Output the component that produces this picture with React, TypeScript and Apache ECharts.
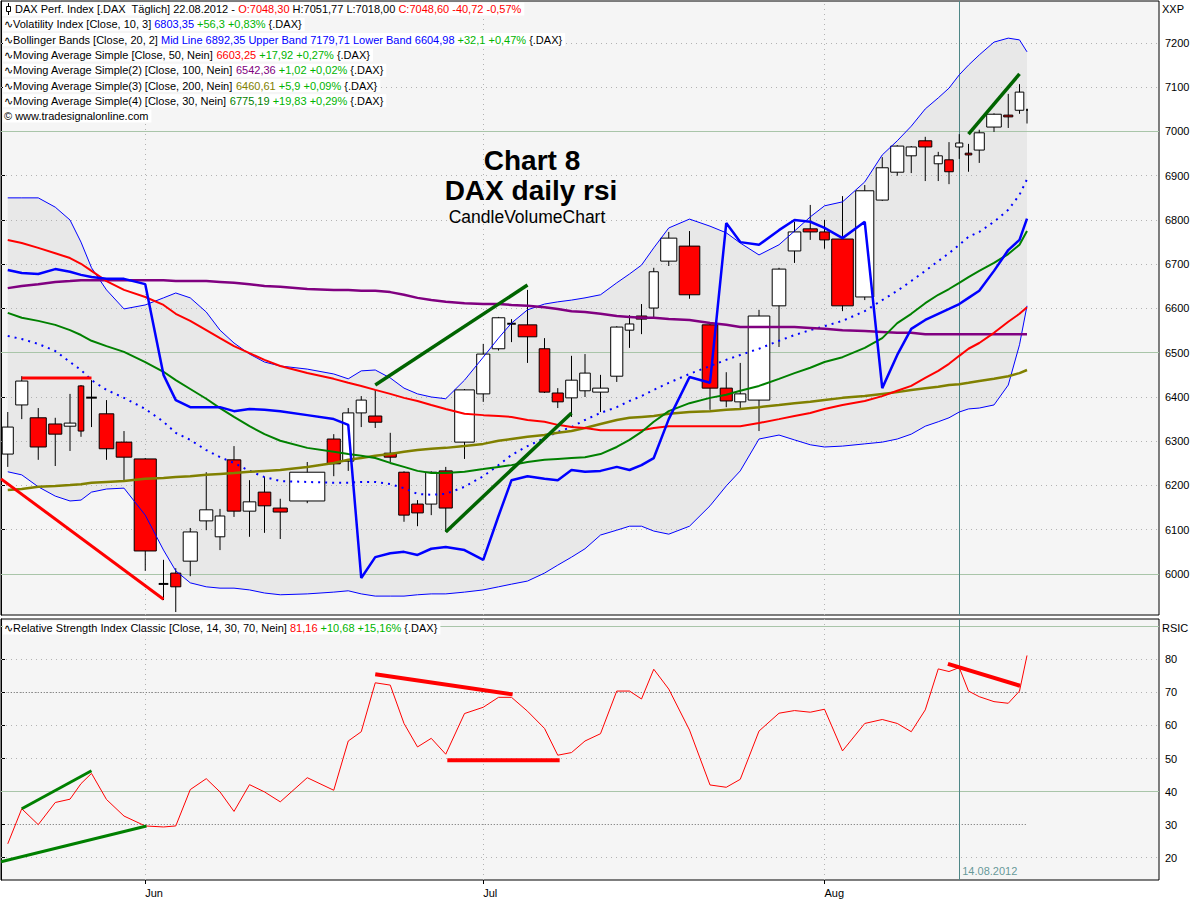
import React, { useEffect, useRef } from 'react';
import * as echarts from 'echarts';

// ---- data ----
const dates = [
  '2012-05-21','2012-05-22','2012-05-23','2012-05-24','2012-05-25','2012-05-28','2012-05-29','2012-05-30','2012-05-31',
  '2012-06-01','2012-06-04','2012-06-05','2012-06-06','2012-06-07','2012-06-08','2012-06-11','2012-06-12','2012-06-13','2012-06-14','2012-06-15',
  '2012-06-18','2012-06-19','2012-06-20','2012-06-21','2012-06-22','2012-06-25','2012-06-26','2012-06-27','2012-06-28','2012-06-29',
  '2012-07-02','2012-07-03','2012-07-04','2012-07-05','2012-07-06','2012-07-09','2012-07-10','2012-07-11','2012-07-12','2012-07-13',
  '2012-07-16','2012-07-17','2012-07-18','2012-07-19','2012-07-20','2012-07-23','2012-07-24','2012-07-25','2012-07-26','2012-07-27',
  '2012-07-30','2012-07-31','2012-08-01','2012-08-02','2012-08-03','2012-08-06','2012-08-07','2012-08-08','2012-08-09','2012-08-10',
  '2012-08-13','2012-08-14','2012-08-15','2012-08-16','2012-08-17','2012-08-20','2012-08-21','2012-08-22'
];
const opens = [6271,6382,6353,6339,6334,6425,6398,6362,6298,6260, 5977,6002,6029,6120,6084,6258,6142,6185,6149,6165,
  6305,6255,6364,6357,6273,6230,6158,6158,6233,6298, 6407,6509,6565,6563,6509,6409,6398,6414,6411,6447,
  6551,6583,6601,6707,6741,6563,6420,6389,6393,6606, 6730,6780,6773,6757,6626,6845,6908,6945,6979,6927,
  6936,6965,6951,6958,7010,7037,7048,7048.3];
const highs = [6366,6447,6375,6353,6407,6427,6438,6393,6323,6262, 6032,6013,6104,6230,6147,6289,6212,6219,6170,6253,
  6316,6375,6402,6416,6319,6232,6167,6232,6242,6418, 6520,6581,6576,6642,6533,6420,6493,6497,6450,6560,
  6585,6610,6692,6773,6775,6565,6456,6477,6597,6692, 6796,6834,6800,6854,6879,6942,6969,6967,6988,6954,
  6976,6994,6972,7004,7041,7085,7107,7051.77];
const lows = [6242,6350,6258,6244,6278,6310,6332,6258,6212,6007, 5941,5914,5995,6099,6054,6129,6084,6093,6079,6160,
  6221,6233,6332,6330,6253,6118,6108,6133,6095,6260, 6389,6505,6524,6477,6409,6375,6355,6400,6366,6434,
  6511,6542,6579,6696,6622,6371,6377,6371,6323,6513, 6703,6755,6735,6594,6619,6843,6900,6906,6888,6888,
  6881,6938,6909,6929,6999,7008,7040,7018];
const closes = [6332,6436,6287,6316,6341,6323,6399,6283,6264,6052, 5978,5971,6095,6145,6131,6142,6163,6154,6140,6230,
  6249,6364,6393,6343,6264,6133,6138,6230,6149,6416, 6497,6579,6566,6536,6411,6389,6438,6454,6420,6558,
  6565,6576,6683,6759,6631,6420,6391,6407,6583,6689, 6773,6773,6755,6606,6866,6918,6967,6965,6965,6945,
  6909,6974,6947,6997,7039,7033,7089,7048.6];
// relative traded volume (CandleVolume chart: candle width ~ volume)
const volumes = [135,145,185,155,140,80,130,170,180,245, 120,125,165,155,120,160,150,150,165,375,
  155,135,125,155,145,130,140,135,155,220, 155,150,110,210,130,135,140,130,180,145,
  110,130,115,185,230,180,145,135,240,160, 150,165,120,240,205,145,155,125,155,105,
  110,95,90,125,170,115,110,40];
const volatilityIndex = [6687,6680,6678,6689,6683,6676,6671,6667,6667,6655, 6450,6393,6377,6377,6377,6368,6373,6371,6368,6359,
  6350,6337,5991,6038,6047,6050,6043,6057,6061,6054, 6032,6131,6212,6221,6215,6212,6235,6231,6233,6242,
  6235,6246,6262,6350,6445,6432,6793,6750,6744,6777, 6800,6796,6782,6759,6796,6420,6495,6554,6574,6588,
  6599,6610,6624,6640,6685,6732,6755,6803];
const bbMid = [6538,6531,6520,6504,6479,6461,6438,6416,6398,6373, 6344,6319,6303,6280,6264,6251,6233,6219,6210,6208,
  6206,6206,6208,6208,6203,6194,6181,6179,6181,6197, 6221,6246,6269,6289,6307,6321,6332,6348,6364,6377,
  6391,6402,6416,6432,6452,6470,6484,6495,6509,6527, 6540,6551,6560,6572,6594,6619,6640,6662,6685,6707,
  6725,6744,6762,6773,6796,6823,6857,6892];
const bbUpper = [6850,6850,6850,6829,6800,6750,6692,6642,6599,6608, 6624,6635,6624,6592,6551,6522,6497,6479,6470,6463,
  6452,6441,6459,6461,6443,6420,6407,6400,6396,6438, 6490,6533,6567,6597,6610,6615,6619,6624,6631,6658,
  6678,6698,6737,6782,6802,6786,6771,6748,6721,6744, 6775,6807,6832,6841,6886,6947,6979,7012,7051,7076,
  7098,7128,7150,7173,7202,7211,7207,7180];
const bbLower = [6231,6224,6197,6176,6165,6167,6185,6192,6194,6133, 6054,6007,5980,5971,5968,5968,5964,5957,5953,5955,
  5959,5962,5955,5950,5950,5950,5953,5955,5955,5959, 5964,5971,5977,5984,6002,6020,6038,6057,6088,6099,
  6108,6108,6097,6090,6108,6154,6199,6233,6305,6314, 6303,6292,6287,6289,6294,6298,6305,6316,6334,6344,
  6353,6366,6373,6375,6382,6427,6518,6606];
const ma30 = [6590,6579,6572,6563,6551,6540,6527,6515,6502,6479, 6457,6438,6418,6396,6375,6355,6334,6316,6301,6285,
  6276,6271,6267,6262,6251,6242,6233,6228,6228,6231, 6237,6242,6246,6253,6258,6260,6262,6264,6271,6287,
  6303,6321,6344,6368,6386,6398,6405,6414,6425,6441, 6454,6466,6479,6490,6511,6533,6567,6588,6612,6631,
  6644,6658,6671,6685,6703,6723,6744,6775];
const ma50 = [6755,6748,6737,6725,6714,6701,6685,6662,6642,6626, 6608,6588,6572,6551,6533,6515,6499,6484,6470,6454,
  6441,6432,6425,6416,6407,6398,6391,6382,6373,6362, 6359,6357,6355,6348,6344,6337,6332,6330,6325,6325,
  6325,6325,6330,6334,6334,6334,6334,6334,6341,6350, 6357,6364,6373,6382,6391,6402,6414,6425,6443,6459,
  6475,6493,6509,6522,6545,6570,6588,6603];
const ma100 = [6646,6651,6655,6660,6662,6664,6664,6664,6664,6664, 6664,6662,6662,6662,6660,6658,6655,6651,6649,6644,
  6642,6642,6640,6640,6637,6631,6624,6619,6615,6612, 6610,6610,6608,6606,6603,6599,6594,6592,6588,6583,
  6581,6579,6579,6576,6574,6567,6563,6558,6558,6558, 6558,6556,6554,6551,6549,6547,6545,6545,6542,6542,
  6542,6542,6542,6542,6542,6542,6542,6542];
const ma200 = [6190,6192,6197,6199,6201,6203,6206,6208,6210,6215, 6217,6219,6221,6224,6226,6228,6231,6233,6235,6242,
  6251,6258,6262,6267,6271,6276,6280,6283,6285,6289, 6294,6301,6305,6310,6314,6319,6323,6330,6339,6348,
  6353,6355,6357,6362,6366,6368,6371,6373,6377,6382, 6386,6389,6393,6398,6402,6407,6411,6416,6420,6423,
  6427,6429,6432,6436,6441,6447,6454,6461];
const rsi = [24.2,34.8,30.0,36.7,37.7,42.4,45.5,37.6,32.6,29.6, 29.3,29.6,40.6,43.9,39.9,34.0,42.1,39.9,36.9,44.2,
  40.4,55.3,58.1,72.9,72.2,60.6,53.5,56.1,51.3,63.6, 65.5,68.5,68.5,64.3,59.1,51.0,51.8,55.3,57.5,70.4,
  70.4,68.0,77.0,71.0,58.6,42.0,41.3,43.7,58.3,63.7, 64.5,64.0,64.9,52.3,60.6,61.8,60.6,58.1,64.7,77.1,
  76.3,77.5,70.4,68.7,67.2,66.7,70.4,81.16];

const priceTicks = [6000,6100,6200,6300,6400,6500,6600,6700,6800,6900,7000,7100,7200];
const rsiTicks = [20,30,40,50,60,70,80];
const rsiSolidLevels = [40, 90];
const rsiDottedLevels = [20, 50, 60, 70, 80];
const rsiBandLevels = [30, 70];
const monthNames = ['Jan','Feb','Mar','Apr','May','Jun','Jul','Aug','Sep','Oct','Nov','Dec'];
const cursorDate = '2012-08-14';

// hand-drawn trend lines: [position (in candles, 0 = left edge of first candle), value, position, value]
const priceRedLines = [[1.5, 6443, 6.5, 6443], [0, 6215, 10.5, 5943]];
const priceGreenLines = [[23.5, 6427, 33.5, 6653], [28.5, 6095, 36.5, 6364], [62.5, 6994, 66.5, 7130]];
const rsiGreenLines = [[1.5, 34.8, 6.5, 46.3], [0, 18.8, 9.55, 29.6]];
const rsiRedLines = [[23.5, 75.5, 32.6, 69.4], [28.6, 49.5, 35.64, 49.5], [60.4, 78.6, 66.55, 72.0]];

const legendTexts = [
  '{k|DAX Perf. Index [.DAX  Täglich] 22.08.2012 - }{r|O:7048,30}{k| H:7051,77 L:7018,00 }{r|C:7048,60 -40,72 -0,57%}',
  '{k|∿Volatility Index [Close, 10, 3] }{b|6803,35}{g| +56,3 +0,83%} {.DAX}',
  '{k|∿Bollinger Bands [Close, 20, 2] }{b|Mid Line 6892,35 Upper Band 7179,71 Lower Band 6604,98}{g| +32,1 +0,47%} {.DAX}',
  '{k|∿Moving Average Simple [Close, 50, Nein] }{r|6603,25}{g| +17,92 +0,27%} {.DAX}',
  '{k|∿Moving Average Simple(2) [Close, 100, Nein] }{p|6542,36}{g| +1,02 +0,02%} {.DAX}',
  '{k|∿Moving Average Simple(3) [Close, 200, Nein] }{o|6460,61}{g| +5,9 +0,09%} {.DAX}',
  '{k|∿Moving Average Simple(4) [Close, 30, Nein] }{d|6775,19}{g| +19,83 +0,29%} {.DAX}',
  '{k|© www.tradesignalonline.com}',
];
const rsiLegendText = '{k|∿Relative Strength Index Classic [Close, 14, 30, 70, Nein] }{r|81,16}{g| +10,68 +15,16%} {.DAX}';

const F = '"Liberation Sans", Arial, sans-serif';

export default function App() {
  const ref = useRef<HTMLDivElement>(null);
  useEffect(() => {
    const chart = echarts.init(ref.current as HTMLDivElement, null, { renderer: 'svg' });
    const n = dates.length;
    const starts: number[] = [];
    let acc = 0;
    for (let i = 0; i < n; i++) { starts.push(acc); acc += volumes[i]; }
    const centers = starts.map((s, i) => s + volumes[i] / 2);
    const xAt = (p: number) => {
      const k = Math.min(n - 1, Math.floor(p));
      return starts[k] + (p - k) * volumes[k];
    };
    const monthTickX: number[] = [];
    const monthTickLabel: string[] = [];
    for (let i = 1; i < n; i++) {
      if (dates[i].slice(5, 7) !== dates[i - 1].slice(5, 7)) {
        monthTickX.push(centers[i]);
        monthTickLabel.push(monthNames[Number(dates[i].slice(5, 7)) - 1]);
      }
    }
    const cursorX = centers[dates.indexOf(cursorDate)];
    const cursorLabel = cursorDate.slice(8, 10) + '.' + cursorDate.slice(5, 7) + '.' + cursorDate.slice(0, 4);

    const X_MAX = 11580;
    const P_MIN = 5907.3, P_MAX = 7294.9;
    const R_MIN = 13.26, R_MAX = 92.19;

    const dotStyle = { color: '#b2b2b2', width: 1, type: [1, 4] };
    const solidStyle = { color: '#a9c5a9', width: 1, type: 'solid' };
    const bandStyle = { color: '#6a6a6a', width: 1, type: [1, 2] };
    const cursorStyle = { color: '#4f8787', width: 1, type: 'solid' };

    const mk = (data: any[], z: number) => ({
      silent: true, symbol: ['none', 'none'], label: { show: false }, animation: false, z, data,
    });

    const line = (arr: number[], color: string, width: number, type: any = 'solid', gi = 0, z = 4) => ({
      type: 'line', xAxisIndex: gi, yAxisIndex: gi, z, silent: true, showSymbol: false, symbol: 'none',
      data: arr.map((v, i) => [centers[i], v]), lineStyle: { color, width, type },
    });
    const trend = (t: number[], color: string, width: number, gi: number) => ({
      type: 'line', xAxisIndex: gi, yAxisIndex: gi, z: 6, silent: true, showSymbol: false, symbol: 'none',
      data: [[xAt(t[0]), t[1]], [xAt(t[2]), t[3]]], lineStyle: { color, width, cap: 'butt' },
    });

    const rich: any = {};
    const richColors: any = { k: '#000000', r: '#ff0000', b: '#0000ff', g: '#00b400', p: '#800080', o: '#808000', d: '#008000' };
    Object.keys(richColors).forEach((k) => { rich[k] = { fill: richColors[k], fontSize: 11, fontFamily: F }; });
    const legendEl = (text: string, x: number, y: number) => ({
      type: 'text', x, y, z: 100, silent: true,
      style: { text, rich, fill: '#000', fontSize: 11, fontFamily: F, verticalAlign: 'middle', align: 'left', backgroundColor: '#ffffff', padding: [1, 3, 1, 1] },
    });

    const graphic: any[] = [];
    graphic.push({ type: 'rect', z: 99, silent: true, shape: { x: 2, y: 2, width: 13, height: 14 }, style: { fill: '#ffffff' } });
    graphic.push({ type: 'line', z: 101, silent: true, shape: { x1: 8.5, y1: 3, x2: 8.5, y2: 15 }, style: { stroke: '#000', lineWidth: 1 } });
    graphic.push({ type: 'rect', z: 102, silent: true, shape: { x: 6.5, y: 6.5, width: 4, height: 5 }, style: { fill: '#fff', stroke: '#000', lineWidth: 1 } });
    legendTexts.forEach((t, i) => graphic.push(legendEl(t, i === 0 ? 14 : 3, 9 + i * 15.3)));
    graphic.push(legendEl(rsiLegendText, 3, 628));
    graphic.push({ type: 'text', x: 1162, y: 9, z: 100, silent: true, style: { text: 'XXP', fontSize: 11, fontFamily: F, fill: '#000', verticalAlign: 'middle' } });
    graphic.push({ type: 'text', x: 1162, y: 628, z: 100, silent: true, style: { text: 'RSIC', fontSize: 11, fontFamily: F, fill: '#000', verticalAlign: 'middle' } });
    graphic.push({ type: 'text', x: 532, y: 160, z: 100, silent: true, style: { text: 'Chart 8', fontSize: 28, fontWeight: 'bold', fontFamily: F, fill: '#000', align: 'center', verticalAlign: 'middle' } });
    graphic.push({ type: 'text', x: 531, y: 190, z: 100, silent: true, style: { text: 'DAX daily rsi', fontSize: 28, fontWeight: 'bold', fontFamily: F, fill: '#000', align: 'center', verticalAlign: 'middle' } });
    graphic.push({ type: 'text', x: 527, y: 217, z: 100, silent: true, style: { text: 'CandleVolumeChart', fontSize: 17.5, fontFamily: F, fill: '#000', align: 'center', verticalAlign: 'middle' } });

    const plain = (v: number) => String(Math.round(v));

    const option: any = {
      animation: false,
      textStyle: { fontFamily: F },
      grid: [
        { left: 1, right: 41, top: 1, height: 614, show: true, backgroundColor: '#f5f5f5', borderColor: '#000', borderWidth: 1 },
        { left: 1, right: 41, top: 619, height: 261, show: true, backgroundColor: '#f5f5f5', borderColor: '#000', borderWidth: 1 },
      ],
      xAxis: [
        { gridIndex: 0, type: 'value', min: 0, max: X_MAX, show: false },
        {
          gridIndex: 1, type: 'value', min: 0, max: X_MAX,
          axisLine: { show: false }, splitLine: { show: false },
          axisTick: { show: true, customValues: monthTickX, length: 4, lineStyle: { color: '#000' } },
          axisLabel: {
            customValues: monthTickX, align: 'left', margin: 7, fontSize: 11, color: '#000', fontFamily: F,
            formatter: (v: number) => {
              let best = 0;
              monthTickX.forEach((m, i) => { if (Math.abs(m - v) < Math.abs(monthTickX[best] - v)) best = i; });
              return monthTickLabel[best];
            },
          },
        },
      ],
      yAxis: [
        {
          gridIndex: 0, type: 'value', position: 'right', min: P_MIN, max: P_MAX,
          axisLine: { show: true, lineStyle: { color: '#000' } }, splitLine: { show: false },
          axisTick: { show: true, customValues: priceTicks, length: 4, lineStyle: { color: '#000' } },
          axisLabel: { customValues: priceTicks, margin: 6, fontSize: 11, color: '#000', fontFamily: F, formatter: plain },
        },
        {
          gridIndex: 1, type: 'value', position: 'right', min: R_MIN, max: R_MAX,
          axisLine: { show: true, lineStyle: { color: '#000' } }, splitLine: { show: false },
          axisTick: { show: true, customValues: rsiTicks, length: 4, lineStyle: { color: '#000' } },
          axisLabel: { customValues: rsiTicks, margin: 6, fontSize: 11, color: '#000', fontFamily: F, formatter: plain },
        },
      ],
      graphic,
      series: [
        // Bollinger band fill
        {
          type: 'custom', xAxisIndex: 0, yAxisIndex: 0, z: 1, silent: true,
          data: [[centers[0], bbLower[0]]], encode: { x: 0, y: 1 },
          renderItem: (params: any, api: any) => {
            const pts: number[][] = [];
            for (let i = 0; i < n; i++) pts.push(api.coord([centers[i], bbUpper[i]]));
            for (let i = n - 1; i >= 0; i--) pts.push(api.coord([centers[i], bbLower[i]]));
            return { type: 'polygon', shape: { points: pts }, style: { fill: '#e8e8e8' } };
          },
        },
        // main grid lines + cursor
        {
          type: 'line', xAxisIndex: 0, yAxisIndex: 0, z: 2, silent: true, showSymbol: false, symbol: 'none',
          data: [[centers[0], closes[0]]], lineStyle: { width: 0, opacity: 0 },
          markLine: mk([
            ...priceTicks.map((v) => ({ yAxis: v, lineStyle: v % 500 === 0 ? solidStyle : dotStyle })),
            ...monthTickX.map((x) => ({ xAxis: x, lineStyle: dotStyle })),
            { xAxis: cursorX, lineStyle: cursorStyle },
          ], 2),
        },
        // candles
        {
          type: 'custom', xAxisIndex: 0, yAxisIndex: 0, z: 3, silent: true,
          data: dates.map((d, i) => [starts[i], starts[i] + volumes[i], opens[i], closes[i], lows[i], highs[i]]),
          encode: { x: [0, 1], y: [2, 3, 4, 5] },
          renderItem: (params: any, api: any) => {
            const s = api.value(0), e = api.value(1), o = api.value(2), c = api.value(3), l = api.value(4), h = api.value(5);
            const m = (s + e) / 2;
            const pS = api.coord([s, o]);
            const pE = api.coord([e, c]);
            const pH = api.coord([m, h]);
            const pL = api.coord([m, l]);
            const x0 = pS[0] + 1.2, x1 = pE[0] - 1.2;
            const top = Math.min(pS[1], pE[1]), bot = Math.max(pS[1], pE[1]);
            const children: any[] = [
              { type: 'line', shape: { x1: pH[0], y1: pH[1], x2: pL[0], y2: pL[1] }, style: { stroke: '#000', lineWidth: 1 } },
            ];
            if (bot - top < 1.5) {
              const ym = (top + bot) / 2;
              children.push({ type: 'line', shape: { x1: x0, y1: ym, x2: Math.max(x1, x0 + 1), y2: ym }, style: { stroke: '#000', lineWidth: 2 } });
            } else {
              children.push({ type: 'rect', shape: { x: x0, y: top, width: Math.max(1, x1 - x0), height: bot - top }, style: { fill: c >= o ? '#ffffff' : '#ff0000', stroke: '#000', lineWidth: 1 } });
            }
            return { type: 'group', children };
          },
        },
        line(bbUpper, '#0000ff', 1),
        line(bbLower, '#0000ff', 1),
        line(bbMid, '#0000ff', 2, [2, 5]),
        line(ma200, '#808000', 2.5),
        line(ma100, '#800080', 2.5),
        line(ma50, '#ff0000', 2),
        line(ma30, '#008000', 2),
        line(volatilityIndex, '#0000ff', 2.5),
        ...priceRedLines.map((t) => trend(t, '#ff0000', 3, 0)),
        ...priceGreenLines.map((t) => trend(t, '#006400', 3.5, 0)),
        // RSI grid lines + cursor
        {
          type: 'line', xAxisIndex: 1, yAxisIndex: 1, z: 2, silent: true, showSymbol: false, symbol: 'none',
          data: [[centers[0], rsi[0]]], lineStyle: { width: 0, opacity: 0 },
          markLine: mk([
            ...rsiSolidLevels.map((v) => ({ yAxis: v, lineStyle: solidStyle })),
            ...rsiDottedLevels.map((v) => ({ yAxis: v, lineStyle: dotStyle })),
            ...monthTickX.map((x) => ({ xAxis: x, lineStyle: dotStyle })),
            ...rsiBandLevels.map((v) => [{ coord: [centers[0], v], lineStyle: bandStyle }, { coord: [centers[n - 1], v] }]),
            { xAxis: cursorX, lineStyle: cursorStyle },
          ], 2),
        },
        line(rsi, '#ff0000', 1, 'solid', 1, 4),
        ...rsiGreenLines.map((t) => trend(t, '#008000', 3, 1)),
        ...rsiRedLines.map((t) => trend(t, '#ff0000', 4, 1)),
        {
          type: 'scatter', xAxisIndex: 1, yAxisIndex: 1, z: 7, silent: true, symbolSize: 0,
          data: [[cursorX, 16]],
          label: { show: true, formatter: cursorLabel, position: 'right', distance: 3, color: '#408080', fontSize: 11, fontFamily: F },
        },
      ],
    };
    chart.setOption(option);
    return () => { chart.dispose(); };
  }, []);
  return <div ref={ref} style={{ position: 'absolute', left: 0, top: 0, width: 1200, height: 900 }} />;
}
